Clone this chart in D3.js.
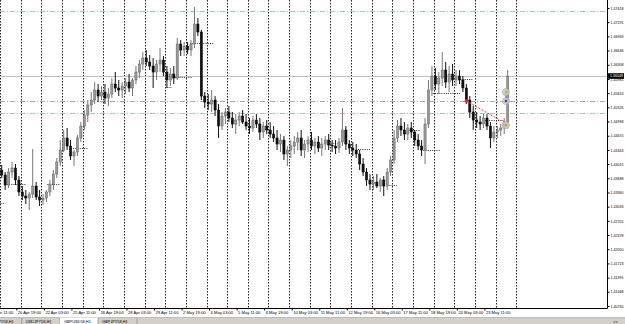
<!DOCTYPE html>
<html><head><meta charset="utf-8">
<script src="https://cdn.jsdelivr.net/npm/d3@7"></script>
<style>html,body{margin:0;padding:0;background:#fff;overflow:hidden}text{font-family:"Liberation Sans",Arial,sans-serif}</style>
</head><body><svg id="c" width="625" height="324"></svg>
<script>
// H4 bars from 20 Apr 00:00, 6 per trading day
const open=[
1.43878,1.43763,1.43532,1.43832,1.43925,1.43648,
1.43371,1.43278,1.43232,1.43324,1.43509,1.43255,
1.43186,1.43232,1.43371,1.43555,1.43786,1.44063,
1.44340,1.44617,1.44432,1.44202,1.44294,1.44617,
1.44894,1.45148,1.45379,1.45494,1.45725,1.45586,
1.45679,1.45540,1.45632,1.45863,1.45771,1.45725,
1.45817,1.45909,1.45771,1.45956,1.46140,1.46325,
1.46463,1.46371,1.46279,1.46140,1.46325,1.46417,
1.46140,1.45956,1.46094,1.46002,1.46786,1.46648,
1.46740,1.46648,1.46786,1.47248,1.47063,1.45586,
1.45448,1.45402,1.45494,1.45263,1.44894,1.45125,
1.45217,1.45079,1.44940,1.45032,1.45125,1.44986,
1.44894,1.44848,1.45032,1.44940,1.44755,1.44894,
1.44802,1.44709,1.44617,1.44478,1.44571,1.44248,
1.44340,1.44432,1.44525,1.44617,1.44340,1.44478,
1.44571,1.44432,1.44525,1.44386,1.44478,1.44571,
1.44455,1.44432,1.44386,1.44525,1.44802,1.44478,
1.44386,1.44340,1.44248,1.44017,1.43832,1.43648,
1.43555,1.43601,1.43509,1.43648,1.43509,1.43832,
1.44109,1.44617,1.44894,1.44802,1.44709,1.44848,
1.44755,1.44571,1.44432,1.44340,1.44940,1.45725,
1.46048,1.45863,1.46002,1.46186,1.45909,1.46094,
1.45956,1.46048,1.45956,1.45771,1.45494,1.45217,
1.45032,1.44986,1.44940,1.45079,1.44894,1.44617,
1.44755,1.44802,1.44848,1.44986];
const high=[
1.43994,1.43832,1.43925,1.44063,1.44017,1.43740,
1.43509,1.43417,1.43371,1.44363,1.43601,1.43417,
1.43324,1.43417,1.43648,1.43878,1.44155,1.44571,
1.44802,1.44848,1.44571,1.44340,1.44686,1.44986,
1.45263,1.45494,1.45679,1.45909,1.45863,1.45817,
1.45863,1.45771,1.46002,1.46140,1.45956,1.45909,
1.46002,1.46094,1.46002,1.46279,1.46417,1.46602,
1.46648,1.46533,1.46463,1.46417,1.46694,1.46510,
1.46279,1.46233,1.46279,1.46925,1.46879,1.46833,
1.46833,1.46879,1.47640,1.47387,1.47110,1.45679,
1.45632,1.45725,1.45586,1.45402,1.45217,1.45309,
1.45356,1.45217,1.45171,1.45217,1.45263,1.45171,
1.45079,1.45125,1.45171,1.45079,1.44986,1.45032,
1.44986,1.44894,1.44802,1.44709,1.44663,1.44432,
1.44571,1.44663,1.44755,1.44802,1.44571,1.44663,
1.44755,1.44617,1.44663,1.44617,1.44663,1.44709,
1.44571,1.44571,1.44617,1.45309,1.44894,1.44571,
1.44525,1.44478,1.44340,1.44155,1.43925,1.43786,
1.43740,1.43786,1.43694,1.43740,1.43925,1.44202,
1.44802,1.45032,1.45079,1.44986,1.44940,1.44986,
1.44802,1.44709,1.44571,1.45079,1.45956,1.46279,
1.46233,1.46140,1.46602,1.46371,1.46279,1.46325,
1.46186,1.46186,1.46048,1.45863,1.45586,1.45356,
1.45217,1.45125,1.45171,1.45171,1.44986,1.44894,
1.44894,1.44940,1.45079,1.46186];
const low=[
1.43694,1.43417,1.43463,1.43694,1.43532,1.43278,
1.43186,1.43094,1.42956,1.43232,1.43186,1.43048,
1.43071,1.43140,1.43278,1.43417,1.43694,1.43971,
1.44294,1.44340,1.44109,1.43971,1.44202,1.44525,
1.44802,1.44986,1.45217,1.45402,1.45448,1.45494,
1.45402,1.45356,1.45540,1.45679,1.45586,1.45540,
1.45632,1.45679,1.45586,1.45863,1.46002,1.46186,
1.46279,1.46186,1.45771,1.45956,1.46140,1.46048,
1.45771,1.45817,1.45863,1.45956,1.46510,1.46510,
1.46556,1.46510,1.46694,1.46971,1.45494,1.45309,
1.45263,1.45217,1.45125,1.44617,1.44802,1.44940,
1.44986,1.44848,1.44709,1.44894,1.44940,1.44802,
1.44709,1.44755,1.44848,1.44571,1.44617,1.44709,
1.44617,1.44525,1.44340,1.44294,1.44109,1.43971,
1.44155,1.44248,1.44340,1.44202,1.44155,1.44294,
1.44340,1.44248,1.44294,1.44202,1.44340,1.44340,
1.44294,1.44248,1.44271,1.44432,1.44340,1.44248,
1.44202,1.44155,1.43878,1.43740,1.43509,1.43417,
1.43417,1.43463,1.43371,1.43278,1.43417,1.43740,
1.44017,1.44525,1.44663,1.44571,1.44571,1.44617,
1.44432,1.44340,1.44202,1.44017,1.44848,1.45586,
1.45725,1.45632,1.45817,1.45771,1.45679,1.45817,
1.45817,1.45863,1.45679,1.45402,1.45079,1.44802,
1.44848,1.44802,1.44848,1.44802,1.44386,1.44525,
1.44617,1.44663,1.44709,1.44848];
const close=[
1.43763,1.43532,1.43832,1.43925,1.43648,1.43371,
1.43278,1.43232,1.43324,1.43509,1.43255,1.43186,
1.43232,1.43371,1.43555,1.43786,1.44063,1.44340,
1.44617,1.44432,1.44202,1.44294,1.44617,1.44894,
1.45148,1.45379,1.45494,1.45725,1.45586,1.45679,
1.45540,1.45632,1.45863,1.45771,1.45725,1.45817,
1.45909,1.45771,1.45956,1.46140,1.46325,1.46463,
1.46371,1.46279,1.46140,1.46325,1.46417,1.46140,
1.45956,1.46094,1.46002,1.46786,1.46648,1.46740,
1.46648,1.46786,1.47248,1.47063,1.45586,1.45448,
1.45402,1.45494,1.45263,1.44894,1.45125,1.45217,
1.45079,1.44940,1.45032,1.45125,1.44986,1.44894,
1.44848,1.45032,1.44940,1.44755,1.44894,1.44802,
1.44709,1.44617,1.44478,1.44571,1.44248,1.44340,
1.44432,1.44525,1.44617,1.44340,1.44478,1.44571,
1.44432,1.44525,1.44386,1.44478,1.44571,1.44455,
1.44432,1.44386,1.44525,1.44802,1.44478,1.44386,
1.44340,1.44248,1.44017,1.43832,1.43648,1.43555,
1.43601,1.43509,1.43648,1.43509,1.43832,1.44109,
1.44617,1.44894,1.44802,1.44709,1.44848,1.44755,
1.44571,1.44432,1.44340,1.44940,1.45725,1.46048,
1.45863,1.46002,1.46186,1.45909,1.46094,1.45956,
1.46048,1.45956,1.45771,1.45494,1.45217,1.45032,
1.44986,1.44940,1.45079,1.44894,1.44617,1.44755,
1.44802,1.44848,1.44986,1.46048];

const priceTicks=["1.47618","1.47291","1.46963","1.46636","1.46308","1.45981","1.45653","1.45326","1.44998","1.44670","1.44343","1.44015","1.43688","1.43360","1.43033","1.42705","1.42378","1.42050","1.41723","1.41395","1.41068","1.40740"];
const timeTickHours=[-13,19,51,83,115,147,179,211,243,275,307,339,371,403,435,467,499,531,563];
const timeTickLabels=["19 Apr 11:00","20 Apr 19:00","22 Apr 03:00","25 Apr 11:00","26 Apr 19:00","28 Apr 03:00","29 Apr 11:00","2 May 19:00","4 May 03:00","5 May 11:00","6 May 19:00","10 May 03:00","11 May 11:00","12 May 19:00","16 May 03:00","17 May 11:00","18 May 19:00","20 May 03:00","23 May 11:00"];
const daySeparatorHours=[0,24,48,72,96,120,144,168,192,216,240,264,288,312,336,360,384,408,432,456,480,504,528,552,576,600];
// short dotted levels
const levelStart=[-2,8,55,85,192,201,221,384,416,450,476,492,503,535,561];
const levelEnd=[6,31,70,102,200,223,248,392,430,461,488,511,535,550,585];
const levelPrice=[1.43117,1.43555,1.43555,1.44386,1.45794,1.46025,1.46810,1.44502,1.44363,1.43532,1.44802,1.44340,1.45655,1.45979,1.45032];
const pinkLevels=[1.47555,1.45194];
const grayLevels=[1.45460];
const tradeHour=[542,585];
const tradePrice=[1.45471,1.44986];
const markerPrice=[1.45679,1.45471,1.44917];
const markerColor=["#e0b000","#2040e0","#e0a000"];
const markerHour=588;
const tabs=["EURJPY58,H1","USDJPY58,H1","GBPUSD58,H1","GBPJPY58,H1"];

const svg=d3.select("#c");
const W=625,H=324,PR=607,PB=308;
svg.append("rect").attr("width",W).attr("height",H).attr("fill","#fff");
const x=d3.scaleLinear().domain([0,24]).range([0,20.65]);
const y=d3.scaleLinear().domain([1.40740,1.47618]).range([306,8]);
const plot=svg.append("g");
svg.append("clipPath").attr("id","pc").append("rect").attr("x",0).attr("y",0).attr("width",PR).attr("height",PB);
plot.attr("clip-path","url(#pc)");

// day separators
plot.selectAll(".sep").data(daySeparatorHours).join("line")
 .attr("x1",d=>Math.round(x(d))+0.5).attr("x2",d=>Math.round(x(d))+0.5)
 .attr("y1",0).attr("y2",PB).attr("stroke","#222").attr("stroke-width",1).attr("stroke-dasharray","1.5,1.5");

// horizontal levels
plot.selectAll(".pk").data(pinkLevels).join("line")
 .attr("x1",0).attr("x2",PR).attr("y1",d=>Math.round(y(d))+0.5).attr("y2",d=>Math.round(y(d))+0.5)
 .attr("stroke","#eea0b4").attr("stroke-dasharray","5,2,1,2");
plot.selectAll(".gy").data(grayLevels).join("line")
 .attr("x1",0).attr("x2",PR).attr("y1",d=>Math.round(y(d))+0.5).attr("y2",d=>Math.round(y(d))+0.5)
 .attr("stroke","#aaaaaa").attr("stroke-dasharray","5,2,1,2");
const bid=close[close.length-1];
plot.append("line").attr("x1",0).attr("x2",PR).attr("y1",Math.round(y(bid))+0.5).attr("y2",Math.round(y(bid))+0.5)
 .attr("stroke","#c0c0c0");

// dotted short levels
plot.selectAll(".lv").data(levelPrice).join("line")
 .attr("x1",(d,i)=>x(levelStart[i])).attr("x2",(d,i)=>x(levelEnd[i]))
 .attr("y1",d=>Math.round(y(d))+0.5).attr("y2",d=>Math.round(y(d))+0.5)
 .attr("stroke","#333").attr("stroke-dasharray","1,1.2");

// candles
const bars=open.map((o,i)=>({i,o,h:high[i],l:low[i],c:close[i]}));
const g=plot.append("g");
g.selectAll(".w").data(bars).join("line")
 .attr("x1",d=>x(4*d.i+2)).attr("x2",d=>x(4*d.i+2))
 .attr("y1",d=>y(d.h)).attr("y2",d=>y(d.l))
 .attr("stroke",d=>d.c>=d.o?"#777":"#111").attr("stroke-width",1);
g.selectAll(".b").data(bars).join("rect")
 .attr("x",d=>x(4*d.i+2)-1.1).attr("width",2.2)
 .attr("y",d=>Math.min(y(d.o),y(d.c))).attr("height",d=>Math.max(1,Math.abs(y(d.o)-y(d.c))))
 .attr("fill",d=>d.c>=d.o?"#999":"#111").attr("stroke",d=>d.c>=d.o?"#666":"#000").attr("stroke-width",0.5);

// trade line & markers
plot.append("line").attr("x1",x(tradeHour[0])).attr("y1",y(tradePrice[0])).attr("x2",x(tradeHour[1])).attr("y2",y(tradePrice[1]))
 .attr("stroke","#ff3030").attr("stroke-dasharray","2,1.5");
plot.append("circle").attr("cx",x(tradeHour[0])).attr("cy",y(tradePrice[0])).attr("r",1.8).attr("fill","#ff2020");
plot.append("line").attr("x1",x(markerHour)).attr("x2",x(markerHour)).attr("y1",y(markerPrice[0])).attr("y2",y(markerPrice[1])).attr("stroke","#3050e0");
plot.selectAll(".mk").data(markerPrice).join("circle")
 .attr("cx",x(markerHour)).attr("cy",d=>y(d)).attr("r",3.6).attr("fill","#c8c8c8").attr("fill-opacity",0.85).attr("stroke","#a8a8a8").attr("stroke-width",0.6);
plot.selectAll(".mkd").data(markerPrice).join("circle")
 .attr("cx",x(markerHour)).attr("cy",d=>y(d)).attr("r",1.2).attr("fill",(d,i)=>markerColor[i]);

// axes frame
svg.append("line").attr("x1",PR+0.5).attr("x2",PR+0.5).attr("y1",0).attr("y2",PB+0.5).attr("stroke","#000");
svg.append("line").attr("x1",0).attr("x2",PR+0.5).attr("y1",PB+0.5).attr("y2",PB+0.5).attr("stroke","#000");

// price axis
const ya=d3.axisRight(y).tickValues(priceTicks.map(Number)).tickSize(2).tickFormat(d=>priceTicks.find(s=>Math.abs(+s-d)<1e-7));
const yg=svg.append("g").attr("transform",`translate(${PR+0.5},0)`).call(ya);
yg.select(".domain").remove();
yg.selectAll("text").attr("x",3).attr("font-size",3.6).attr("fill","#000");
yg.selectAll("line").attr("stroke","#000");

// current price label
svg.append("rect").attr("x",PR+1).attr("y",y(bid)-2.8).attr("width",W-PR-2).attr("height",5.6).attr("fill","#000");
svg.append("text").attr("x",PR+3).attr("y",y(bid)+1.3).attr("font-size",3.6).attr("fill","#fff").text(bid.toFixed(5));

// time axis
const xa=d3.axisBottom(x).tickValues(timeTickHours).tickSize(2).tickFormat((d,i)=>timeTickLabels[i]);
const xg=svg.append("g").attr("transform",`translate(0,${PB+0.5})`).call(xa);
xg.select(".domain").remove();
xg.selectAll(".tick line").attr("stroke","#000");
xg.selectAll("text").attr("text-anchor","start").attr("dx",1).attr("y",2.5).attr("dy","0.71em").attr("font-size",4.1).attr("fill","#000");

// tab bar
svg.append("rect").attr("x",0).attr("y",317.5).attr("width",W).attr("height",7).attr("fill","#d4d0c8");
svg.append("line").attr("x1",0).attr("x2",W).attr("y1",317.5).attr("y2",317.5).attr("stroke","#a0a0a0").attr("stroke-width",0.6);
const tabX=[-16,21.7,60,98,137];
tabs.forEach((t,i)=>{
  if(i===2) svg.append("rect").attr("x",tabX[i]).attr("y",317.5).attr("width",tabX[i+1]-tabX[i]).attr("height",7).attr("fill","#fff");
  svg.append("line").attr("x1",tabX[i+1]).attr("x2",tabX[i+1]).attr("y1",318).attr("y2",324).attr("stroke","#808080").attr("stroke-width",0.6);
  svg.append("text").attr("x",tabX[i]+4).attr("y",322.6).attr("font-size",3.9).attr("fill","#000").text(t);
});
svg.append("text").attr("x",613).attr("y",322.6).attr("font-size",3.5).attr("fill","#666").text("◂ ▸");
</script></body></html>
